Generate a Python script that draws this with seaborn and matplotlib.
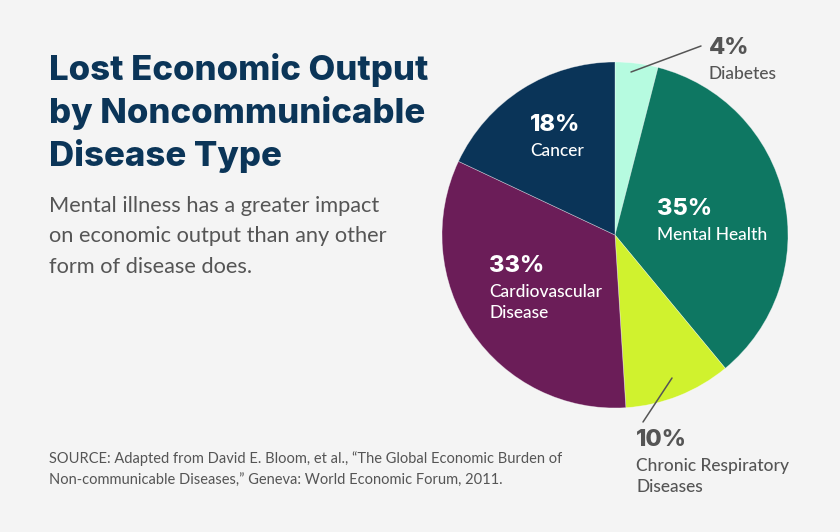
import matplotlib
matplotlib.use("Agg")
import matplotlib.pyplot as plt
import seaborn as sns

# data, clockwise from 12 o'clock
categories = ["Diabetes", "Mental Health", "Chronic Respiratory\nDiseases",
              "Cardiovascular\nDisease", "Cancer"]
shares = [4, 35, 10, 33, 18]
colors = ["#b6fbe0", "#0e7762", "#d0f22e", "#6b1d58", "#0a3458"]

title = "Lost Economic Output\nby Noncommunicable\nDisease Type"
subtitle = ("Mental illness has a greater impact\n"
            "on economic output than any other\n"
            "form of disease does.")
source = ("SOURCE: Adapted from David E. Bloom, et al., \u201cThe Global Economic Burden of\n"
          "Non-communicable Diseases,\u201d Geneva: World Economic Forum, 2011.")

sns.set_theme(style="white")
plt.rcParams["font.family"] = ["Lato", "DejaVu Sans"]

W, H = 840, 532
bg = "#f4f4f4"
fig = plt.figure(figsize=(W / 100, H / 100), dpi=100, facecolor=bg)


def px(x, y):
    return x / W, 1 - y / H


# pie axes: centre (615, 235), radius 173 px
cx, cy, r = 615, 235, 173
ax = fig.add_axes([(cx - r) / W, 1 - (cy + r) / H, 2 * r / W, 2 * r / H])
ax.set_facecolor(bg)
wedges, _ = ax.pie(shares, colors=colors, startangle=90, counterclock=False,
                   radius=1, wedgeprops=dict(linewidth=0.5, edgecolor="#ffffff70"))
ax.set_xlim(-1, 1)
ax.set_ylim(-1, 1)
ax.set_aspect("equal")
ax.axis("off")

navy = "#0b3558"
gray = "#555555"
bold_font = ["Inter", "DejaVu Sans"]

fig.text(*px(49, 53), title, fontsize=25, fontweight=800, family=bold_font,
         color=navy, va="top", ha="left", linespacing=1.33)
fig.text(*px(49, 196), subtitle, fontsize=15.7, color=gray, va="top", ha="left",
         linespacing=1.65)
fig.text(*px(49, 451), source, fontsize=10.5, color=gray, va="top", ha="left",
         linespacing=1.75)


def label(x, y, pct, name, col):
    fig.text(*px(x, y), f"{pct}%", fontsize=17, fontweight=800,
             family=bold_font, color=col, va="top", ha="left")
    fig.text(*px(x, y + 29), name, fontsize=12.5, fontweight="medium", color=col,
             va="top", ha="left", linespacing=1.4)


label(530, 114, shares[4], categories[4], "white")
label(657, 198, shares[1], categories[1], "white")
label(489, 255, shares[3], categories[3], "white")
label(709, 37, shares[0], categories[0], gray)
label(636, 429, shares[2], categories[2], gray)

# leader lines
for (x0, y0), (x1, y1) in [((631, 72), (701, 46)), ((672, 378), (643, 422))]:
    fig.add_artist(plt.Line2D([x0 / W, x1 / W], [1 - y0 / H, 1 - y1 / H],
                              color=gray, linewidth=1.1))

fig.savefig("out.png", dpi=100, facecolor=bg)
